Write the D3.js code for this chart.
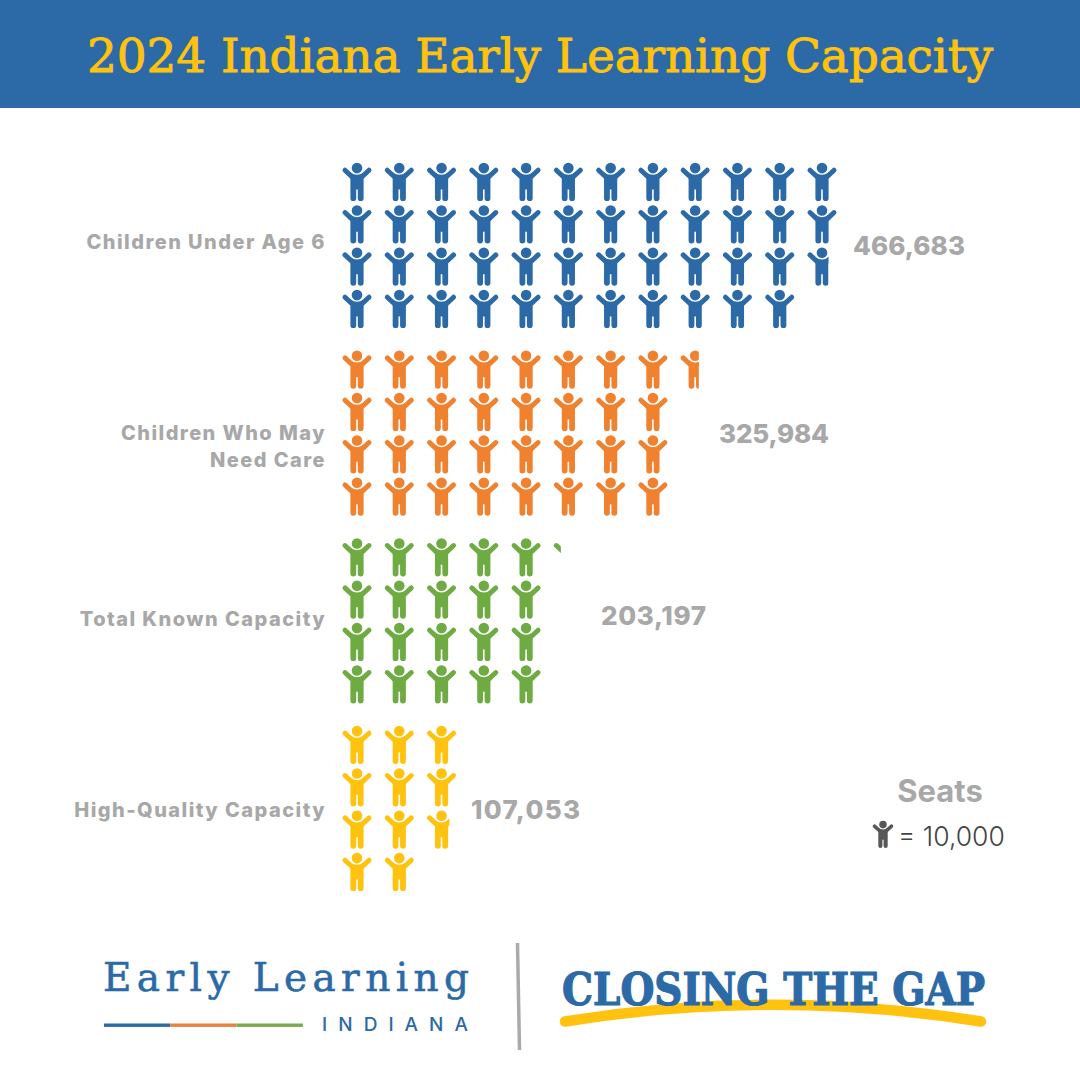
<!DOCTYPE html>
<html>
<head>
<meta charset="utf-8">
<script src="https://cdn.jsdelivr.net/npm/d3@7"></script>
<style>
  body { margin: 0; background: #fff; }
  text { font-family: Inter, sans-serif; }
  .serif { font-family: "DejaVu Serif", serif; }
</style>
</head>
<body>
<svg id="chart" width="1080" height="1080"></svg>
<script>
const title = "2024 Indiana Early Learning Capacity"
const categories = ["Children Under Age 6", "Children Who May Need Care", "Total Known Capacity", "High-Quality Capacity"]
const categoryLines = [["Children Under Age 6"], ["Children Who May", "Need Care"], ["Total Known Capacity"], ["High-Quality Capacity"]]
const values = [466683, 325984, 203197, 107053]
const colors = ["#2b6aa7", "#f0812f", "#6fab43", "#ffc20e"]
const seatsPerIcon = 10000
const rowsPerColumn = 4

const grey = "#a8a8a8"
const svg = d3.select("#chart")

let x = d3.scaleLinear().domain([0, 11]).range([357, 822])
let row = d3.scaleLinear().domain([0, 3]).range([0, 127])
let top_ = d3.scalePoint().domain(categories).range([163, 726])

let drawIcon = (sel, color) => {
  sel.append("circle").attr("cx", 0).attr("cy", 5.1).attr("r", 5.3).attr("fill", color)
  sel.append("path")
    .attr("d", "M-6.6,9.5 Q0,14.2 6.6,9.5 L6.6,35.2 A2.9,2.9 0 0 1 0.8,35.2 L0.8,26.5 L-0.8,26.5 L-0.8,35.2 A2.9,2.9 0 0 1 -6.6,35.2 Z")
    .attr("fill", color)
  sel.append("path")
    .attr("d", "M-12,7.2 L-5,13.8 M12,7.2 L5,13.8")
    .attr("fill", "none")
    .attr("stroke", color)
    .attr("stroke-width", 5)
    .attr("stroke-linecap", "round")
}

// title band
svg.append("rect").attr("width", 1080).attr("height", 108).attr("fill", "#2b6aa7")
svg.append("text").attr("class", "serif")
  .attr("x", 540).attr("y", 72)
  .attr("text-anchor", "middle")
  .attr("font-size", 47)
  .attr("textLength", 906)
  .attr("fill", "#ffc20e")
  .attr("stroke", "#ffc20e").attr("stroke-width", 0.9)
  .text(title)

const labelX = [853, 719, 601, 471]
const labelY = [255, 443, 625, 819]
const labelWidth = [112, 110, 105, 109]
const catY = [249, 440, 626, 817]

categories.forEach((cat, c) => {
  const total = values[c] / seatsPerIcon
  const g = svg.append("g")

  d3.range(Math.ceil(total)).forEach(i => {
    const frac = Math.min(1, total - i)
    const icon = g.append("g")
      .attr("transform", "translate(" + x(Math.floor(i / rowsPerColumn)) + "," + (top_(cat) + row(i % rowsPerColumn)) + ")")
    if (frac < 1) {
      // partial icon is cut across its whole cell, not just the figure
      const id = "clip" + c
      svg.append("clipPath").attr("id", id)
        .append("rect").attr("x", -20.3).attr("y", -2).attr("width", 40 * frac).attr("height", 42)
      icon.attr("clip-path", "url(#" + id + ")")
    }
    drawIcon(icon, colors[c])
  })

  categoryLines[c].forEach((line, l) => {
    svg.append("text")
      .attr("x", 326).attr("y", catY[c] + l * 27)
      .attr("text-anchor", "end")
      .attr("font-size", 20).attr("font-weight", 800)
      .attr("letter-spacing", 1.45)
      .attr("fill", grey)
      .text(line)
  })

  svg.append("text")
    .attr("x", labelX[c]).attr("y", labelY[c])
    .attr("font-size", 26).attr("font-weight", 800)
    .attr("textLength", labelWidth[c])
    .attr("fill", grey)
    .text(d3.format(",")(values[c]))
})

// legend
svg.append("text").attr("x", 940).attr("y", 802).attr("text-anchor", "middle")
  .attr("font-size", 31).attr("font-weight", 700).attr("fill", grey).text("Seats")
drawIcon(svg.append("g").attr("transform", "translate(883,821) scale(0.71)"), "#585858")
svg.append("text").attr("x", 898).attr("y", 846)
  .attr("font-size", 26.5).attr("font-weight", 300).attr("fill", "#444").text("= " + d3.format(",")(seatsPerIcon))

// logos
svg.append("text").attr("class", "serif")
  .attr("x", 103).attr("y", 991)
  .attr("font-size", 39).attr("textLength", 366)
  .attr("fill", "#2b6aa7")
  .attr("stroke", "#2b6aa7").attr("stroke-width", 0.6)
  .text("Early Learning")
svg.append("text")
  .attr("x", 322).attr("y", 1031)
  .attr("font-size", 19).attr("font-weight", 500).attr("textLength", 146)
  .attr("fill", "#2b6aa7").text("INDIANA")
const ruleColors = ["#2b6aa7", "#e8813c", "#7aab4e"]
ruleColors.forEach((col, i) => {
  svg.append("rect").attr("x", 104 + i * 66.3).attr("y", 1023.5).attr("width", 66.3).attr("height", 3.4).attr("fill", col)
})
svg.append("line").attr("x1", 517.5).attr("y1", 943).attr("x2", 519.5).attr("y2", 1050)
  .attr("stroke", "#aaa").attr("stroke-width", 3.5)

svg.append("path")
  .attr("d", "M565,1021.5 Q772,988 981,1021.5")
  .attr("fill", "none").attr("stroke", "#ffc20e").attr("stroke-width", 10.5).attr("stroke-linecap", "round")
svg.append("text").attr("class", "serif")
  .attr("x", 562).attr("y", 1005)
  .attr("font-size", 45).attr("font-weight", 700).attr("textLength", 423).attr("lengthAdjust", "spacingAndGlyphs")
  .attr("fill", "#2b6aa7")
  .attr("stroke", "#2b6aa7").attr("stroke-width", 1.2)
  .text("CLOSING THE GAP")
</script>
</body>
</html>
